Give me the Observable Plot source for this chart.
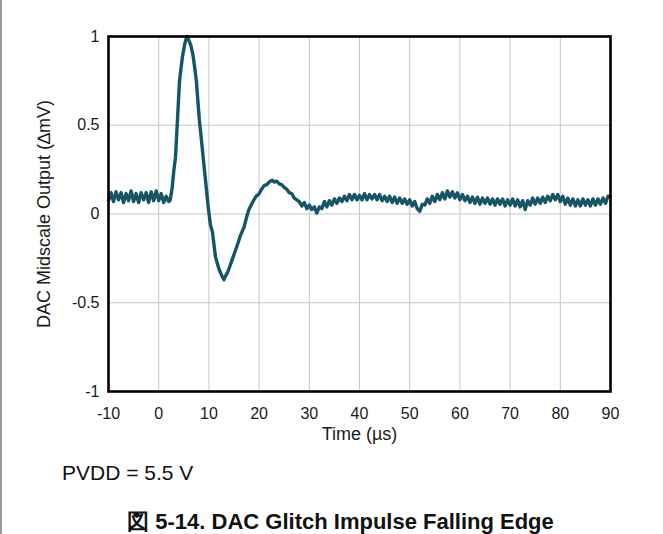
<!DOCTYPE html>
<html>
<head>
<meta charset="utf-8">
<script src="https://cdn.jsdelivr.net/npm/d3@7"></script>
<script src="https://cdn.jsdelivr.net/npm/@observablehq/plot@0.6"></script>
<style>
  html, body { margin: 0; padding: 0; background: #fff; }
  body { width: 663px; height: 534px; position: relative; overflow: hidden; font-family: "Liberation Sans", Arial, sans-serif; }
  #edge { position: absolute; left: 0; top: 0; width: 2px; height: 534px; background: #9a9a9a; }
  #chart { position: absolute; left: 0; top: 0; }
  #note { position: absolute; left: 62px; top: 462px; font-size: 21px; line-height: 1; color: #111; white-space: nowrap; }
  #caption { position: absolute; left: 9px; width: 663px; top: 511px; text-align: center; font-size: 22px; line-height: 1; font-weight: bold; color: #111; white-space: nowrap; }
</style>
</head>
<body>
<div id="edge"></div>
<div id="chart"></div>
<div id="note">PVDD = 5.5 V</div>
<div id="caption">図 5-14. DAC Glitch Impulse Falling Edge</div>
<script>
// Time (µs) and DAC midscale output (ΔmV)
const time = [
  -10, -9.5, -9, -8.5, -8, -7.5, -7, -6.5, -6, -5.5, -5, -4.5, -4, -3.5, -3, -2.5, -2, -1.5, -1, -0.5,
  0, 0.5, 1, 1.5, 2, 2.3, 2.7, 3.0, 3.35, 3.7, 4.15, 4.7, 5.2, 5.6, 6.0, 6.4, 6.8, 7.2, 7.5, 8.1,
  8.5, 9.0, 9.4, 9.86, 10.3, 10.7, 11.3, 12.0, 12.6, 13.0, 13.3, 13.7, 14.1, 14.6, 15.1, 15.6, 16.3, 17.0, 17.5, 17.9,
  18.4, 18.9, 19.4, 19.9, 20.5, 21.0, 21.5, 22.0, 22.6, 23.0, 23.5, 24.0, 24.5, 25.0, 25.5, 26.0, 26.5, 27.0, 27.5, 28.0,
  28.5, 29.0, 29.5, 30.0, 30.5, 31.0, 31.5, 32.0, 32.5, 33.0, 33.5, 34.0, 34.5, 35.0, 35.5, 36.0, 36.5, 37.0, 37.5, 38.0,
  38.5, 39.0, 39.5, 40.0, 40.5, 41.0, 41.5, 42.0, 42.5, 43.0, 43.5, 44.0, 44.5, 45.0, 45.5, 46.0, 46.5, 47.0, 47.5, 48.0,
  48.5, 49.0, 49.5, 50.0, 50.5, 51.0, 51.5, 52.0, 52.5, 53.0, 53.5, 54.0, 54.5, 55.0, 55.5, 56.0, 56.5, 57.0, 57.5, 58.0,
  58.5, 59.0, 59.5, 60.0, 60.5, 61.0, 61.5, 62.0, 62.5, 63.0, 63.5, 64.0, 64.5, 65.0, 65.5, 66.0, 66.5, 67.0, 67.5, 68.0,
  68.5, 69.0, 69.5, 70.0, 70.5, 71.0, 71.5, 72.0, 72.5, 73.0, 73.5, 74.0, 74.5, 75.0, 75.5, 76.0, 76.5, 77.0, 77.5, 78.0,
  78.5, 79.0, 79.5, 80.0, 80.5, 81.0, 81.5, 82.0, 82.5, 83.0, 83.5, 84.0, 84.5, 85.0, 85.5, 86.0, 86.5, 87.0, 87.5, 88.0,
  88.5, 89.0, 89.5, 90.0
];
const output = [
  0.075, 0.12, 0.07, 0.125, 0.08, 0.12, 0.065, 0.115, 0.075, 0.13, 0.07, 0.115, 0.065, 0.12, 0.08, 0.12, 0.065, 0.125, 0.075, 0.13,
  0.075, 0.115, 0.065, 0.10, 0.07, 0.08, 0.15, 0.24, 0.32, 0.51, 0.75, 0.88, 0.96, 1.0, 0.98, 0.95, 0.90, 0.82, 0.75, 0.53,
  0.42, 0.28, 0.17, 0.04, -0.06, -0.10, -0.24, -0.31, -0.35, -0.37, -0.35, -0.33, -0.30, -0.26, -0.22, -0.18, -0.12, -0.074, -0.02, 0.02,
  0.05, 0.076, 0.10, 0.11, 0.14, 0.16, 0.165, 0.18, 0.19, 0.18, 0.185, 0.17, 0.165, 0.15, 0.14, 0.12, 0.115, 0.09, 0.08, 0.07,
  0.045, 0.065, 0.03, 0.05, 0.025, 0.04, 0.005, 0.04, 0.03, 0.07, 0.04, 0.075, 0.05, 0.085, 0.06, 0.09, 0.07, 0.10, 0.075, 0.11,
  0.08, 0.11, 0.08, 0.105, 0.08, 0.115, 0.08, 0.11, 0.085, 0.11, 0.08, 0.11, 0.075, 0.10, 0.07, 0.10, 0.065, 0.095, 0.06, 0.09,
  0.06, 0.085, 0.055, 0.08, 0.045, 0.07, 0.03, 0.015, 0.055, 0.05, 0.085, 0.06, 0.10, 0.07, 0.11, 0.08, 0.12, 0.085, 0.13, 0.095,
  0.125, 0.09, 0.12, 0.08, 0.11, 0.075, 0.10, 0.065, 0.095, 0.06, 0.095, 0.055, 0.09, 0.06, 0.09, 0.055, 0.085, 0.05, 0.085, 0.055,
  0.085, 0.045, 0.08, 0.05, 0.085, 0.045, 0.08, 0.04, 0.075, 0.025, 0.075, 0.05, 0.09, 0.055, 0.09, 0.06, 0.095, 0.065, 0.10, 0.075,
  0.11, 0.08, 0.11, 0.07, 0.10, 0.055, 0.09, 0.05, 0.085, 0.045, 0.08, 0.045, 0.085, 0.05, 0.08, 0.045, 0.085, 0.05, 0.085, 0.055,
  0.09, 0.06, 0.10, 0.10
];
const xTicks = [-10, 0, 10, 20, 30, 40, 50, 60, 70, 80, 90];
const xTickLabels = ["-10", "0", "10", "20", "30", "40", "50", "60", "70", "80", "90"];
const yTicks = [-1, -0.5, 0, 0.5, 1];
const yTickLabels = ["-1", "-0.5", "0", "0.5", "1"];
const xLabel = "Time (µs)";
const yLabel = "DAC Midscale Output (∆mV)";

const data = time.map((t, i) => ({t, v: output[i]}));

const chart = Plot.plot({
  width: 663,
  height: 450,
  marginLeft: 108,
  marginRight: 53,
  marginTop: 36,
  marginBottom: 59,
  style: {fontFamily: "'Liberation Sans', Arial, sans-serif", fontSize: "16px", color: "#1a1a1a", background: "transparent"},
  x: {domain: [-10, 90], ticks: xTicks},
  y: {domain: [-1, 1], ticks: yTicks},
  marks: [
    Plot.ruleX(xTicks, {stroke: "#c6c6c6", strokeWidth: 1}),
    Plot.ruleY(yTicks, {stroke: "#c6c6c6", strokeWidth: 1}),
    Plot.line(data, {x: "t", y: "v", stroke: "#145566", strokeWidth: 3.4, strokeLinejoin: "round"}),
    Plot.frame({stroke: "#000", strokeWidth: 2.6}),
    Plot.axisX({ticks: xTicks, tickSize: 0, tickPadding: 16, tickFormat: d => xTickLabels[xTicks.indexOf(d)], label: null, fontSize: 16}),
    Plot.axisY({ticks: yTicks, tickSize: 0, tickPadding: 9, tickFormat: d => yTickLabels[yTicks.indexOf(d)], label: null, fontSize: 16}),
    Plot.text([xLabel], {text: d => d, frameAnchor: "bottom", dy: 43, textAnchor: "middle", lineAnchor: "middle", fontSize: 18, fill: "#1a1a1a"}),
    Plot.text([yLabel], {text: d => d, frameAnchor: "left", dx: -64.5, rotate: -90, textAnchor: "middle", lineAnchor: "middle", fontSize: 18, fill: "#1a1a1a"})
  ]
});
document.getElementById("chart").appendChild(chart);
</script>
</body>
</html>
